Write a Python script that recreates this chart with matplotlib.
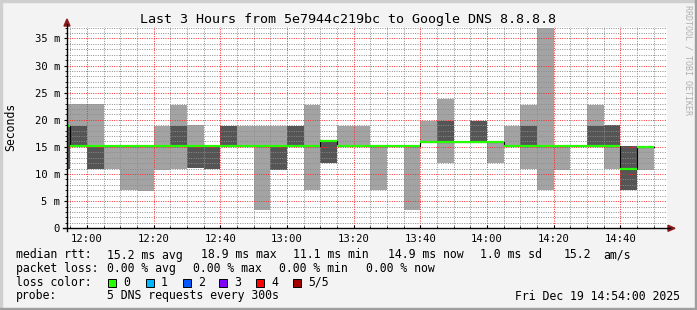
import matplotlib
matplotlib.use("Agg")
import matplotlib.pyplot as plt
from matplotlib.patches import Rectangle, Polygon
from matplotlib.lines import Line2D
from matplotlib.ticker import MultipleLocator, FuncFormatter

# smokeping style chart, 5 sorted pings per 5 minute step (ms)
start_min = 11 * 60 + 50   # first step starts 11:50
step = 5
p1 = [11.0, 15.2, 11.0, 11.0, 7.1, 6.9, 10.8, 11.0, 11.2, 11.0, 15.2, 15.2, 3.3, 10.8, 15.2, 7.1, 12.0, 15.2,
      15.2, 7.1, 15.2, 3.3, 15.9, 12.0, 15.9, 15.9, 12.0, 15.2, 11.0, 7.1, 10.8, 15.2, 15.2, 11.0, 7.1, 10.8]
p2 = [11.0, 15.2, 11.0, 15.2, 15.2, 15.2, 15.2, 15.2, 11.2, 11.0, 15.2, 15.2, 15.2, 10.8, 15.2, 15.2, 12.0, 15.2,
      15.2, 15.2, 15.2, 15.2, 15.9, 15.9, 15.9, 15.9, 15.9, 15.2, 15.2, 15.2, 15.2, 15.2, 15.2, 15.2, 7.1, 14.9]
p3 = [18.9, 15.2, 15.2, 15.2, 15.2, 15.2, 15.2, 15.2, 15.2, 15.2, 15.2, 15.2, 15.2, 15.2, 15.2, 15.2, 16.0, 15.2,
      15.2, 15.2, 15.2, 15.2, 15.9, 15.9, 15.9, 15.9, 15.9, 15.2, 15.2, 15.2, 15.2, 15.2, 15.2, 15.2, 11.0, 14.9]
p4 = [18.9, 18.9, 15.2, 15.2, 15.2, 15.2, 15.2, 18.9, 15.2, 15.2, 18.9, 15.2, 15.2, 15.2, 18.9, 15.2, 16.0, 15.2,
      15.2, 15.2, 15.2, 15.2, 15.9, 19.8, 15.9, 19.8, 15.9, 15.2, 18.9, 15.2, 15.2, 15.2, 18.9, 19.0, 15.2, 14.9]
p5 = [22.9, 22.9, 22.9, 15.2, 15.2, 15.2, 18.9, 22.7, 19.1, 15.2, 18.9, 18.9, 18.9, 18.9, 18.9, 22.7, 16.0, 18.9,
      18.9, 15.2, 15.2, 15.2, 19.8, 23.9, 15.9, 19.8, 15.9, 18.9, 22.7, 37.0, 15.4, 15.2, 22.7, 19.0, 15.2, 14.9]

tick_labels = ["12:00", "12:20", "12:40", "13:00", "13:20", "13:40", "14:00", "14:20", "14:40"]
loss_labels = ["0", "1", "2", "3", "4", "5/5"]
loss_colors = ["#26ff00", "#00b8ff", "#0059ff", "#7e00ff", "#ff0000", "#a00000"]

W, H = 697, 310
def fx(x): return x / W
def fy(y): return 1 - y / H

fig = plt.figure(figsize=(W / 100, H / 100), dpi=100, facecolor="#f3f3f3")
mono = "DejaVu Sans Mono"

# 3d frame
fig.patches.append(Rectangle((0, fy(2)), 1, 2 / H, transform=fig.transFigure, color="#cfcfcf", zorder=0))
fig.patches.append(Rectangle((0, 0), 2 / W, 1, transform=fig.transFigure, color="#cfcfcf", zorder=0))
fig.patches.append(Rectangle((0, 0), 1, 2 / H, transform=fig.transFigure, color="#9e9e9e", zorder=0))
fig.patches.append(Rectangle((1 - 2 / W, 0), 2 / W, 1, transform=fig.transFigure, color="#9e9e9e", zorder=0))

left, right, top, bottom = 67, 667, 27, 228.3
ax = fig.add_axes([fx(left), fy(bottom), (right - left) / W, (bottom - top) / H])
ax.set_facecolor("white")

xs = [start_min + i * step for i in range(len(p3))]
light, dark = "#a3a3a3", "#555555"
bands = [(p1, p2, light), (p2, p3, dark), (p3, p4, dark), (p4, p5, light)]
for lo, hi, col in bands:
    ax.bar(xs, [h - l for l, h in zip(lo, hi)], bottom=lo, width=step, align="edge",
           color=col, linewidth=0, zorder=1)

# median: black step connectors, green level segments
ax.step(xs + [xs[-1] + step], p3 + [p3[-1]], where="post", color="black", lw=0.8, zorder=3)
ax.hlines(p3, xs, [x + step for x in xs], color=loss_colors[0], lw=1.6, zorder=4)

ax.set_xlim(start_min + 4, start_min + 4 + 180)
ax.set_ylim(0, 37.1)

ax.xaxis.set_major_locator(MultipleLocator(20))
ax.xaxis.set_minor_locator(MultipleLocator(5))
ax.yaxis.set_major_locator(MultipleLocator(5))
ax.yaxis.set_minor_locator(MultipleLocator(1))
tick_pos = [int(t[:2]) * 60 + int(t[3:]) for t in tick_labels]
ax.set_xticks(tick_pos)
ax.set_xticklabels(tick_labels)
ax.yaxis.set_major_formatter(FuncFormatter(lambda v, p: "0" if v == 0 else f"{int(v)} m"))

ax.set_axisbelow(False)
ax.grid(which="minor", color=(0.55, 0.55, 0.55, 0.28), lw=0.7, linestyle=(0, (1, 1.4)))
ax.grid(which="major", color=(1, 0.15, 0.15, 0.3), lw=0.7, linestyle=(0, (1, 1.4)))

for s in ax.spines.values():
    s.set_visible(False)
ax.tick_params(axis="both", which="both", labelsize=7.6, colors="black")
ax.tick_params(axis="y", which="major", direction="out", length=2.5, width=0.8, pad=2.5)
ax.tick_params(axis="y", which="minor", direction="out", length=1.5, width=0.6)
ax.tick_params(axis="x", which="major", direction="in", length=2.5, width=0.8, pad=3.8)
ax.tick_params(axis="x", which="minor", direction="in", length=1.5, width=0.6)
for lab in ax.get_xticklabels() + ax.get_yticklabels():
    lab.set_family(mono)

# axes lines with arrows
fig.lines.append(Line2D([fx(67), fx(67)], [fy(231), fy(24)], transform=fig.transFigure, color="black", lw=1))
fig.lines.append(Line2D([fx(63), fx(670)], [fy(bottom), fy(bottom)], transform=fig.transFigure, color="black", lw=1))
fig.patches.append(Polygon([(fx(64), fy(26)), (fx(70), fy(26)), (fx(67), fy(19))], closed=True,
                           transform=fig.transFigure, color="#8b1a1a"))
fig.patches.append(Polygon([(fx(668), fy(bottom - 3)), (fx(668), fy(bottom + 3)), (fx(675), fy(bottom))],
                           closed=True, transform=fig.transFigure, color="#8b1a1a"))

fig.text(fx(348), fy(19), "Last 3 Hours from 5e7944c219bc to Google DNS 8.8.8.8",
         ha="center", va="center", family=mono, fontsize=9.6)
fig.text(fx(11), fy(127), "Seconds", rotation=90, ha="center", va="center", family=mono, fontsize=8.3)
fig.text(fx(688), fy(60), "RRDTOOL / TOBI OETIKER", rotation=270, ha="center", va="center",
         family=mono, fontsize=6.0, color="#b0b0b0")

fs = 8.3
def t(x, y, s, **kw):
    fig.text(fx(x), fy(y), s, va="center", family=mono, fontsize=fs, **kw)

y1, y2, y3, y4 = 255, 268.5, 282.3, 296
t(16, y1, "median rtt:")
for x, s in [(107.3, "15.2 ms avg"), (201, "18.9 ms max"), (293, "11.1 ms min"), (388.3, "14.9 ms now"),
             (480, "1.0 ms sd"), (563.3, "15.2"), (603.3, "am/s")]:
    t(x, y1, s)
t(16, y2, "packet loss:")
for x, s in [(107.3, "0.00 % avg"), (193.3, "0.00 % max"), (279.3, "0.00 % min"), (366, "0.00 % now")]:
    t(x, y2, s)
t(16, y3, "loss color:")
box_x = [108.3, 145.7, 182.7, 219.3, 256.3, 293.3]
for bx, lab, col in zip(box_x, loss_labels, loss_colors):
    fig.patches.append(Rectangle((fx(bx), fy(286.5)), 8 / W, 8 / H, transform=fig.transFigure,
                                 facecolor=col, edgecolor="black", lw=0.7))
    t(bx + 15, y3, lab)
t(16, y4, "probe:")
t(107.3, y4, "5 DNS requests every 300s")
t(680, y4, "Fri Dec 19 14:54:00 2025", ha="right")

fig.savefig("out.png", dpi=100, facecolor=fig.get_facecolor())
